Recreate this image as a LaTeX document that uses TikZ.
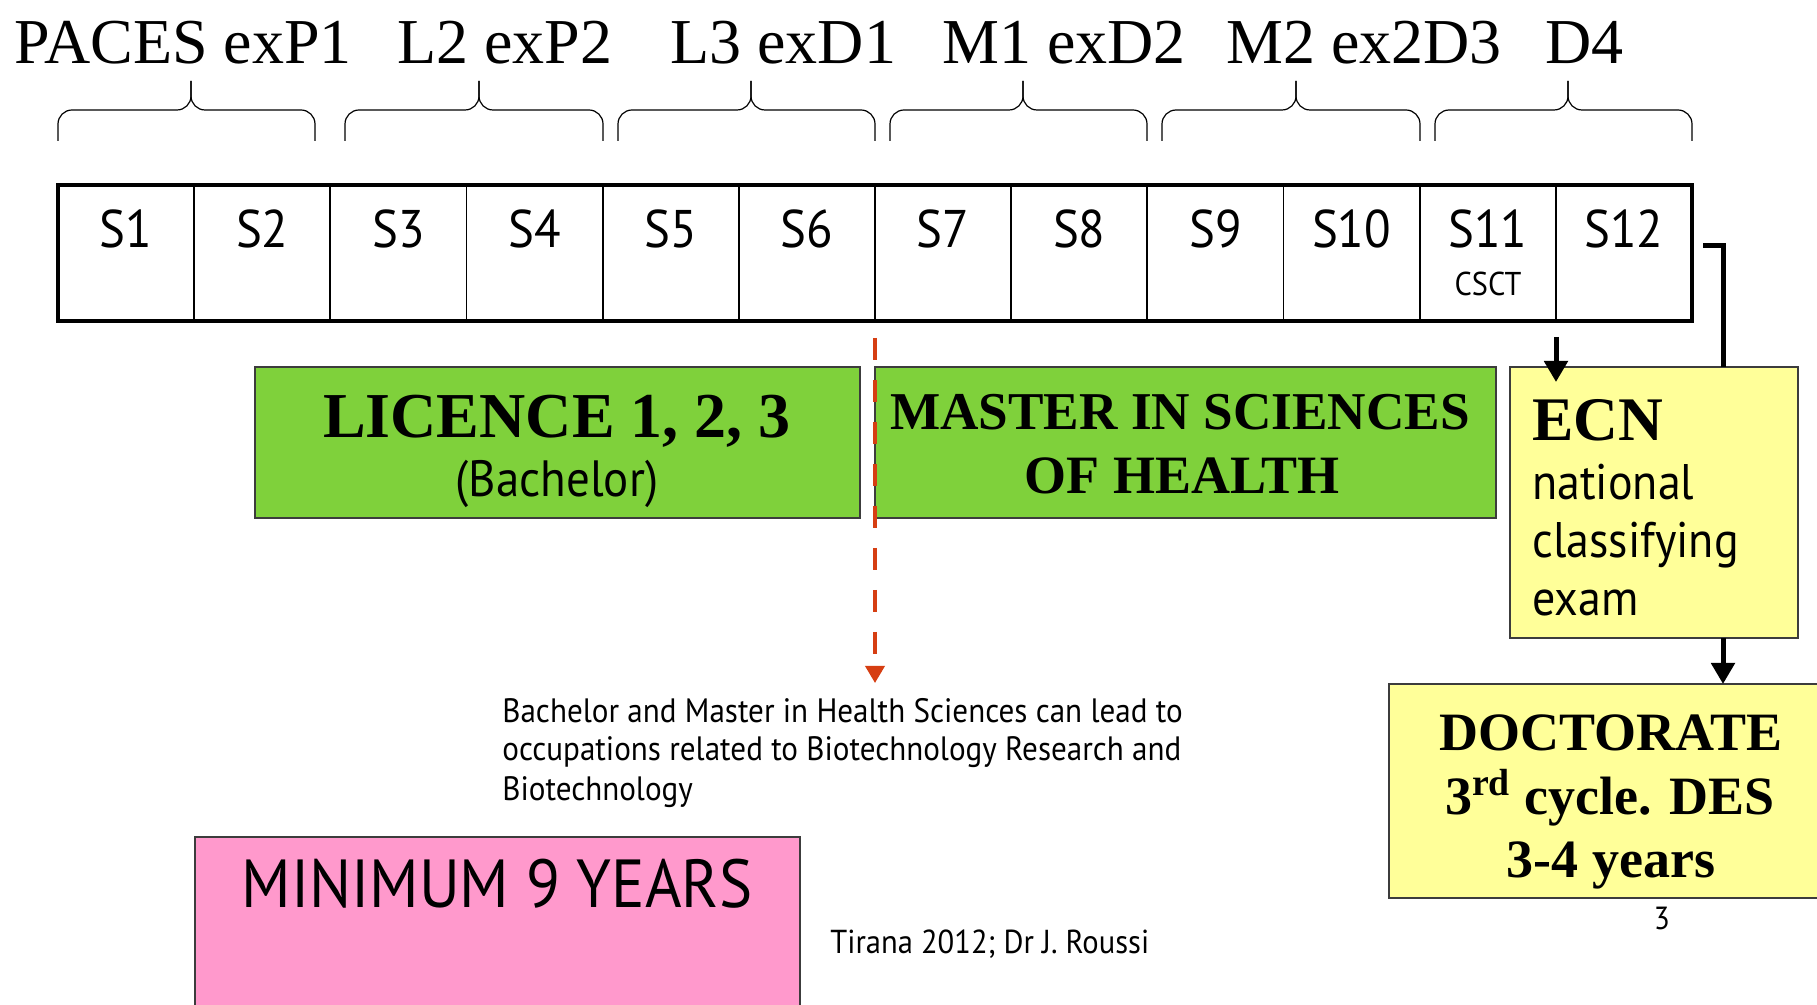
\documentclass[tikz,border=0pt]{standalone}
\usepackage{fontspec}
\setmainfont{Liberation Serif}
\newfontfamily\cs[FakeStretch=0.92]{PT Sans}
\usetikzlibrary{arrows.meta}
\definecolor{boxgreen}{RGB}{127,209,59}
\definecolor{boxyellow}{RGB}{255,255,153}
\definecolor{boxpink}{RGB}{255,153,204}
\definecolor{dashred}{RGB}{214,62,18}
\definecolor{boxedge}{RGB}{60,60,60}
\tikzset{
  cell/.style={draw=black, line width=0.85pt, minimum width=68.083pt, minimum height=68pt, inner sep=0pt, outer sep=0pt},
  slabel/.style={font=\cs\fontsize{26.5}{30}\selectfont, inner sep=0pt},
  title/.style={font=\fontsize{32}{36}\selectfont, inner sep=0pt, anchor=base west},
  brace/.style={line width=0.6pt, rounded corners=7pt},
  gbox/.style={draw=boxedge, line width=0.8pt, fill=boxgreen, anchor=north west, inner sep=0pt, outer sep=0pt},
  ybox/.style={draw=boxedge, line width=0.8pt, fill=boxyellow, anchor=north west, inner sep=0pt, outer sep=0pt},
  pbox/.style={draw=boxedge, line width=0.8pt, fill=boxpink, anchor=north west, inner sep=0pt, outer sep=0pt},
  bserif/.style={font=\bfseries\fontsize{27}{32}\selectfont, inner sep=0pt, anchor=base},
  blkarrow/.style={line width=2.5pt, -{Triangle[width=11.5pt,length=10.5pt]}},
  thickline/.style={line width=2.5pt},
  redarrow/.style={dashred, line width=1.8pt, dash pattern=on 11pt off 10pt, -{Triangle[width=9.5pt,length=8.5pt]}},
  txt/.style={inner sep=0pt, anchor=base west}
}
\begin{document}
\begin{tikzpicture}[x=0.5pt,y=-0.5pt]
\useasboundingbox (0,0) rectangle (1817,1005);

% titles
\node[title] (t1) at (14,64) {PACES exP1};
\node[title] (t2) at (397,64) {L2 exP2};
\node[title] (t3) at (670,64) {L3 exD1};
\node[title] (t4) at (942,64) {M1 exD2};
\node[title] (t5) at (1226,64) {M2 ex2D3};
\node[title] (t6) at (1545,64) {D4};

% braces
\foreach \xl/\xt/\xr in {58/191/315, 345/479/603, 618/751/875, 890/1023/1147, 1162/1296/1420, 1435/1568/1692}{
  \draw[brace] (\xl,141) -- (\xl,110) -- (\xt,110) -- (\xt,81);
  \draw[brace] (\xt,81) -- (\xt,110) -- (\xr,110) -- (\xr,141);
}

% semester row
\foreach \i in {1,...,12}{
  \node[cell] (s\i) at ({58+(\i-0.5)*136.1667},253) {};
  \node[slabel, anchor=base] (sl\i) at ({58+(\i-0.5)*136.1667},248) {S\i};
}
\draw[line width=2.3pt] (s1.north west) rectangle (s12.south east);
\node[inner sep=0pt, anchor=base, font=\cs\fontsize{16.5}{19}\selectfont] (csct) at (1488,296) {CSCT};

% boxes
\node[gbox, minimum width=302.5pt, minimum height=75.5pt] (lic) at (255,367) {};
\node[gbox, minimum width=310.5pt, minimum height=75.5pt] (mas) at (875,367) {};
\node[ybox, minimum width=144pt, minimum height=135.5pt] (ecn) at (1510,367) {};
\node[ybox, minimum width=222pt, minimum height=107pt] (doc) at (1389,684) {};
\node[pbox, minimum width=302.5pt, minimum height=88pt] (mini) at (195,837) {};

% box texts
\node[bserif, font=\bfseries\fontsize{32}{36}\selectfont] (lict) at (557,438) {LICENCE 1, 2, 3};
\node[inner sep=0pt, anchor=base, font=\cs\fontsize{25.5}{29}\selectfont] (bach) at (557,497) {(Bachelor)};
\node[bserif, font=\bfseries\fontsize{26.6}{32}\selectfont] (mast1) at (1180,430) {MASTER IN SCIENCES};
\node[bserif] (mast2) at (1182,494) {OF HEALTH};
\node[inner sep=0pt, anchor=base west, font=\bfseries\fontsize{31}{36}\selectfont] (ecnt) at (1532,441) {ECN};
\node[txt, font=\cs\fontsize{25}{29}\selectfont] (ecn1) at (1532,500) {national};
\node[txt, font=\cs\fontsize{25}{29}\selectfont] (ecn2) at (1532,558) {classifying};
\node[txt, font=\cs\fontsize{25}{29}\selectfont] (ecn3) at (1532,616) {exam};
\node[bserif] (doc1) at (1611,750) {DOCTORATE};
\node[bserif] (doc2) at (1610,814) {3\textsuperscript{rd} cycle. DES};
\node[bserif] (doc3) at (1611,877) {3-4 years};
\node[inner sep=0pt, anchor=base, font=\cs\fontsize{34}{40}\selectfont] (minit) at (497,907) {MINIMUM 9 YEARS};

% free texts
\node[txt, font=\cs\fontsize{16.9}{19}\selectfont] (p1) at (502,723) {Bachelor and Master in Health Sciences can lead to};
\node[txt, font=\cs\fontsize{16.9}{19}\selectfont] (p2) at (502,761) {occupations related to Biotechnology Research and};
\node[txt, font=\cs\fontsize{16.9}{19}\selectfont] (p3) at (502,800) {Biotechnology};
\node[txt, font=\cs\fontsize{16.6}{19}\selectfont] (tir) at (830,953) {Tirana 2012; Dr J. Roussi};
\node[inner sep=0pt, anchor=base, font=\cs\fontsize{16}{19}\selectfont] (pg) at (1662,929) {3};

% connectors
\coordinate (rtop) at (875,338);
\coordinate (rbot) at (875,683);
\draw[redarrow] (rtop) -- (rbot);

\coordinate (a1s) at (1556,337);
\coordinate (a1e) at (1556,382);
\draw[blkarrow] (a1s) -- (a1e);

\coordinate (b0) at (1703,246);
\coordinate (b1) at (1723,246);
\draw[thickline] (b0) -- (b1) -- (b1 |- ecn.north);
\draw[blkarrow] (b1 |- ecn.south) -- (b1 |- doc.north);
\end{tikzpicture}
\end{document}
